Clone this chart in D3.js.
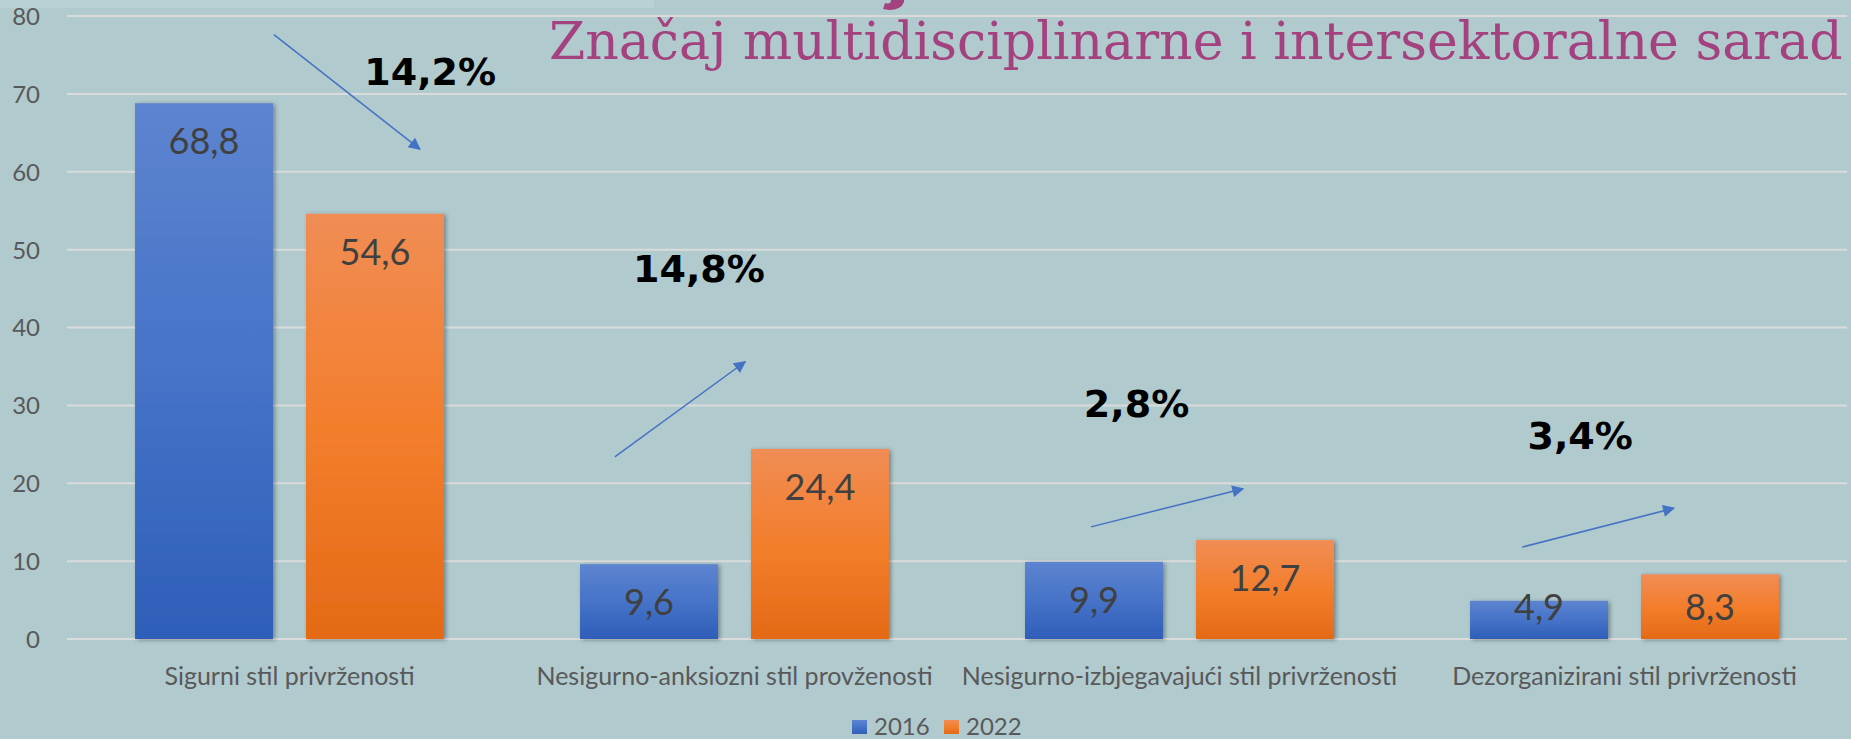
<!DOCTYPE html>
<html>
<head>
<meta charset="utf-8">
<script src="https://cdn.jsdelivr.net/npm/d3@7"></script>
<style>
  html, body { margin: 0; padding: 0; background: #B0CACE; overflow: hidden; }
  svg { display: block; }
</style>
</head>
<body>
<svg id="chart" width="1851" height="739"></svg>
<script>
// ---- data ----
const categories = [
  "Sigurni stil privrženosti",
  "Nesigurno-anksiozni stil provženosti",
  "Nesigurno-izbjegavajući stil privrženosti",
  "Dezorganizirani stil privrženosti"
];
const years = ["2016", "2022"];
const values2016 = [68.8, 9.6, 9.9, 4.9];
const values2022 = [54.6, 24.4, 12.7, 8.3];
const yTicks = [0, 10, 20, 30, 40, 50, 60, 70, 80];
const titleText = "Značaj multidisciplinarne i intersektoralne sarad";
const changeLabels = ["14,2%", "14,8%", "2,8%", "3,4%"];
// arrow annotation positions in data units: band fraction (x) and value (y)
const arrowFrom = [[0.465, 77.6], [0.231, 23.4], [0.301, 14.4], [0.270, 11.8]];
const arrowTo   = [[0.793, 62.9], [0.524, 35.6], [0.643, 19.3], [0.611, 16.8]];
const labelAt   = [[0.668, 71.2], [0.272, 45.8], [0.285, 28.5], [0.282, 24.4]];

// ---- layout ----
const W = 1851, H = 739;
const plot = { left: 67, right: 1847, top: 16, bottom: 639 };
const svg = d3.select("#chart");

svg.append("rect").attr("width", W).attr("height", H).attr("fill", "#B0CACE");
// faint lighter strip at very top-left
svg.append("rect").attr("x", 0).attr("y", 0).attr("width", 654).attr("height", 8).attr("fill", "#B8D1D4");

const defs = svg.append("defs");
const grads = {
  "2016": ["#5D84D0", "#4673C8", "#2E5EB8"],
  "2022": ["#F08D55", "#F37E2C", "#E46A16"]
};
years.forEach(yr => {
  const g = defs.append("linearGradient").attr("id", "g" + yr)
    .attr("x1", 0).attr("y1", 0).attr("x2", 0).attr("y2", 1);
  g.append("stop").attr("offset", "0%").attr("stop-color", grads[yr][0]);
  g.append("stop").attr("offset", "50%").attr("stop-color", grads[yr][1]);
  g.append("stop").attr("offset", "100%").attr("stop-color", grads[yr][2]);
});
const f = defs.append("filter").attr("id", "shadow").attr("x", "-10%").attr("y", "-10%").attr("width", "130%").attr("height", "130%");
f.append("feDropShadow").attr("dx", 2).attr("dy", 1).attr("stdDeviation", 2)
  .attr("flood-color", "#000").attr("flood-opacity", 0.35);
const mk = defs.append("marker").attr("id", "arrowhead")
  .attr("viewBox", "0 0 10 10").attr("refX", 9).attr("refY", 5)
  .attr("markerWidth", 9).attr("markerHeight", 8).attr("markerUnits", "strokeWidth")
  .attr("orient", "auto");
mk.append("path").attr("d", "M0,0 L10,5 L0,10 Z").attr("fill", "#4472C4");

// ---- scales ----
const x0 = d3.scaleBand().domain(categories).range([plot.left, plot.right]).padding(0);
const x1 = d3.scaleBand().domain(years).range([0, x0.bandwidth()])
  .paddingInner(0.193).paddingOuter(0.398);
const y = d3.scaleLinear().domain([0, 80]).range([plot.bottom, plot.top]);

// ---- gridlines ----
svg.append("g").selectAll("line").data(yTicks).join("line")
  .attr("x1", plot.left).attr("x2", plot.right)
  .attr("y1", d => y(d)).attr("y2", d => y(d))
  .attr("stroke", "#DADCDC").attr("stroke-width", 2);

// ---- y axis labels ----
const yAxis = d3.axisLeft(y).tickValues(yTicks).tickSize(0).tickPadding(0);
const ya = svg.append("g").attr("transform", `translate(40,0)`).call(yAxis);
ya.select(".domain").remove();
ya.selectAll("text").attr("font-family", "Lato, 'Open Sans', sans-serif")
  .attr("font-size", 24).attr("fill", "#595959").attr("dy", "0.35em");

// ---- bars ----
const rows = categories.map((c, i) => ({ cat: c, vals: [
  { yr: "2016", v: values2016[i] }, { yr: "2022", v: values2022[i] }] }));
const groups = svg.append("g").selectAll("g").data(rows).join("g")
  .attr("transform", d => `translate(${x0(d.cat)},0)`);
groups.selectAll("rect").data(d => d.vals).join("rect")
  .attr("x", d => x1(d.yr)).attr("width", x1.bandwidth())
  .attr("y", d => y(d.v)).attr("height", d => y(0) - y(d.v))
  .attr("fill", d => `url(#g${d.yr})`).attr("filter", "url(#shadow)");
groups.selectAll("text.val").data(d => d.vals).join("text").attr("class", "val")
  .attr("x", d => x1(d.yr) + x1.bandwidth() / 2)
  .attr("y", d => Math.min(y(d.v) + 38, y(0) - 32))
  .attr("dy", "0.36em").attr("text-anchor", "middle")
  .attr("font-family", "Lato, 'Open Sans', sans-serif").attr("font-size", 36)
  .attr("fill", "#404040")
  .text(d => d3.format(".1f")(d.v).replace(".", ","));

// ---- x axis labels ----
const xAxis = d3.axisBottom(x0).tickSize(0).tickPadding(0);
const xa = svg.append("g").attr("transform", `translate(0,${y(0)})`).call(xAxis);
xa.select(".domain").remove();
xa.selectAll("text").attr("font-family", "Lato, 'Open Sans', sans-serif")
  .attr("font-size", 25).attr("fill", "#595959").attr("y", 37).attr("dy", "0.35em");

// ---- legend ----
const legend = svg.append("g");
const legX = [852, 944];
years.forEach((yr, i) => {
  legend.append("rect").attr("x", legX[i]).attr("y", 720).attr("width", 15).attr("height", 14)
    .attr("fill", `url(#g${yr})`);
  legend.append("text").attr("x", legX[i] + 22).attr("y", 726).attr("dy", "0.36em")
    .attr("font-family", "Lato, 'Open Sans', sans-serif").attr("font-size", 24)
    .attr("fill", "#595959").text(yr);
});

// ---- arrows and change labels ----
const ann = svg.append("g");
categories.forEach((c, i) => {
  const bx = x0(c), bw = x0.bandwidth();
  ann.append("line")
    .attr("x1", bx + arrowFrom[i][0] * bw).attr("y1", y(arrowFrom[i][1]))
    .attr("x2", bx + arrowTo[i][0] * bw).attr("y2", y(arrowTo[i][1]))
    .attr("stroke", "#4472C4").attr("stroke-width", 1.5)
    .attr("marker-end", "url(#arrowhead)");
  ann.append("text")
    .attr("x", bx + labelAt[i][0] * bw).attr("y", y(labelAt[i][1]))
    .attr("font-family", "'DejaVu Sans', Verdana, sans-serif").attr("font-weight", "bold")
    .attr("font-size", 38).attr("fill", "#000").text(changeLabels[i]);
});

// ---- title (and the cut-off descender of a larger heading above it) ----
svg.append("path")
  .attr("d", "M891,0 L904,0 L904,2 Q901,10 889,10 L883,9 L885,3 Q891,5 891,0 Z")
  .attr("fill", "#A3427F");
const title = svg.append("text").attr("x", 549).attr("y", 59)
  .attr("font-family", "'DejaVu Serif', serif").attr("font-size", 52)
  .attr("fill", "#A3427F").text(titleText);
const tl = title.node().getComputedTextLength();
title.attr("font-size", 52 * 1294 / tl);
</script>
</body>
</html>
